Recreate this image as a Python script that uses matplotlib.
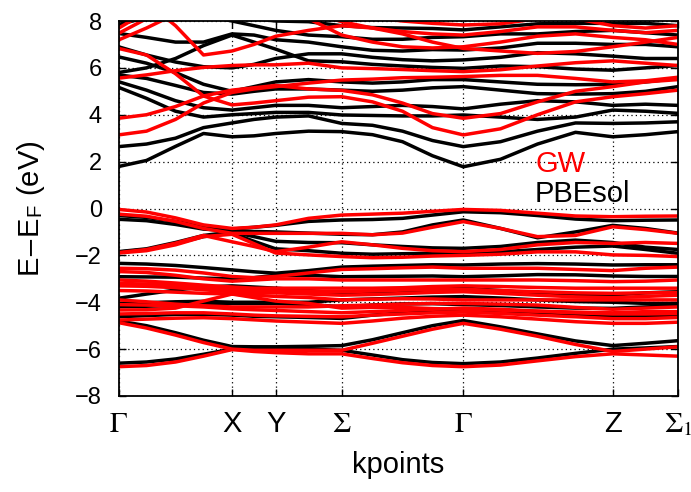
import matplotlib
matplotlib.use('Agg')
import matplotlib.pyplot as plt

# ---------------- data ----------------
# k-path distance (arbitrary units) of the sampled points
kdist = [0, 28, 57, 85, 113.5, 135.5, 157.2, 190, 223.2, 254, 284, 314, 344.8,
         382, 419, 457, 494.2, 527, 559.5]
sym_idx = [0, 4, 6, 8, 12, 16, 18]
sym_labels = [r'$\Gamma$', 'X', 'Y', r'$\Sigma$', r'$\Gamma$', 'Z', r'$\Sigma_1$']
yticks = [-8, -6, -4, -2, 0, 2, 4, 6, 8]

# PBEsol bands (eV)
pbe_c1 = [1.79, 2.05, 2.65, 3.20, 3.06, 3.10, 3.20, 3.30, 3.28, 3.15, 2.85, 2.25, 1.78, 2.10, 2.75, 3.25, 3.06, 3.15, 3.28]
pbe_c2 = [2.64, 2.75, 3.00, 3.45, 3.65, 3.80, 3.90, 3.95, 3.63, 3.55, 3.30, 2.90, 2.64, 2.85, 3.30, 3.65, 3.63, 3.65, 3.70]
pbe_c3 = [5.17, 4.70, 4.15, 3.90, 4.00, 4.05, 4.10, 4.10, 3.99, 3.97, 3.95, 3.95, 3.99, 3.90, 3.80, 3.90, 4.20, 4.15, 4.06]
pbe_c4 = [5.41, 5.05, 4.60, 4.30, 4.20, 4.30, 4.40, 4.40, 4.30, 4.35, 4.40, 4.35, 4.25, 4.45, 4.60, 4.55, 4.40, 4.45, 4.40]
pbe_c5 = [5.70, 5.55, 5.25, 4.95, 4.88, 5.00, 5.10, 5.10, 5.05, 5.00, 5.05, 5.15, 5.20, 5.05, 4.90, 4.88, 4.90, 5.00, 5.20]
pbe_c6 = [6.47, 6.20, 5.80, 5.30, 5.00, 5.20, 5.40, 5.50, 5.40, 5.35, 5.40, 5.50, 5.50, 5.40, 5.30, 5.28, 5.30, 5.40, 5.55]
pbe_c7 = [5.80, 6.00, 6.40, 6.95, 7.40, 7.10, 6.80, 6.30, 6.26, 6.15, 6.08, 6.02, 5.98, 6.08, 6.05, 5.95, 5.90, 6.00, 6.10]
pbe_c8 = [6.90, 6.55, 6.25, 6.05, 6.00, 6.15, 6.40, 6.60, 6.60, 6.45, 6.35, 6.30, 6.34, 6.45, 6.65, 6.60, 6.50, 6.40, 6.40]
pbe_c9 = [7.47, 7.30, 7.10, 7.10, 7.45, 7.40, 7.20, 7.10, 6.90, 6.75, 6.72, 6.78, 6.76, 6.85, 7.05, 7.05, 7.00, 7.00, 6.90]
pbe_c10 = [7.85, 8.15, 8.35, 8.25, 8.00, 7.80, 7.60, 7.40, 7.33, 7.22, 7.22, 7.30, 7.33, 7.45, 7.45, 7.55, 7.60, 7.50, 7.40]
pbe_c11 = [8.50, 8.50, 8.50, 8.40, 8.30, 8.10, 8.00, 7.97, 7.80, 7.72, 7.70, 7.68, 7.62, 7.75, 7.88, 7.90, 7.90, 7.90, 7.80]

pbe_v1 = [-0.30, -0.38, -0.55, -0.78, -0.88, -0.80, -0.72, -0.55, -0.49, -0.47, -0.42, -0.28, -0.14, -0.18, -0.30, -0.45, -0.52, -0.50, -0.49]
pbe_v2 = [-0.46, -0.52, -0.68, -0.88, -0.95, -0.98, -1.00, -1.05, -1.10, -1.12, -1.00, -0.70, -0.49, -0.85, -1.25, -1.00, -0.72, -0.85, -1.05]
pbe_v3 = [-1.84, -1.72, -1.45, -1.15, -1.00, -1.20, -1.40, -1.45, -1.46, -1.55, -1.62, -1.68, -1.70, -1.62, -1.45, -1.35, -1.45, -1.65, -1.75]
pbe_v4 = [-1.86, -1.75, -1.50, -1.20, -1.05, -1.40, -1.72, -1.80, -1.91, -1.95, -1.93, -1.91, -1.90, -1.85, -1.75, -1.65, -1.60, -1.75, -1.91]
pbe_v5 = [-2.34, -2.37, -2.43, -2.52, -2.62, -2.70, -2.76, -2.65, -2.50, -2.46, -2.43, -2.40, -2.41, -2.37, -2.35, -2.37, -2.41, -2.40, -2.40]
pbe_v6 = [-2.91, -2.92, -2.93, -2.97, -3.00, -2.95, -2.85, -2.85, -2.91, -2.90, -2.89, -2.88, -2.91, -2.87, -2.82, -2.83, -2.88, -2.90, -2.90]
pbe_v7 = [-3.83, -3.65, -3.48, -3.35, -3.30, -3.35, -3.40, -3.50, -3.62, -3.57, -3.53, -3.48, -3.40, -3.50, -3.62, -3.70, -3.69, -3.60, -3.55]
pbe_v8 = [-4.05, -4.02, -3.98, -3.96, -4.00, -4.00, -4.00, -4.00, -3.90, -3.86, -3.82, -3.78, -3.76, -3.82, -3.90, -3.97, -4.00, -4.05, -4.05]
pbe_v9 = [-4.19, -4.17, -4.14, -4.10, -4.05, -4.05, -4.05, -4.10, -4.19, -4.12, -4.07, -4.06, -4.10, -4.14, -4.20, -4.25, -4.26, -4.20, -4.15]
pbe_v10 = [-4.62, -4.57, -4.52, -4.52, -4.55, -4.60, -4.62, -4.65, -4.69, -4.55, -4.45, -4.38, -4.35, -4.42, -4.50, -4.57, -4.60, -4.60, -4.55]
pbe_v11 = [-4.80, -5.00, -5.30, -5.62, -5.89, -5.90, -5.90, -5.88, -5.85, -5.60, -5.30, -5.00, -4.78, -5.05, -5.35, -5.65, -5.85, -5.75, -5.64]
pbe_v12 = [-6.60, -6.55, -6.42, -6.22, -6.00, -5.98, -5.98, -6.00, -6.05, -6.25, -6.45, -6.57, -6.62, -6.55, -6.38, -6.18, -6.00, -5.95, -5.89]

# GW bands (eV)
gw_c1 = [3.14, 3.30, 3.80, 4.50, 4.95, 5.10, 5.20, 5.35, 5.48, 5.52, 5.58, 5.60, 5.63, 5.68, 5.68, 5.55, 5.40, 5.45, 5.60]
gw_c2 = [3.85, 4.00, 4.35, 4.80, 5.05, 5.15, 5.25, 5.10, 5.04, 4.85, 4.50, 4.05, 3.85, 4.05, 4.55, 5.00, 5.20, 5.40, 5.50]
gw_c3 = [5.56, 5.70, 5.88, 6.02, 6.10, 6.13, 6.13, 6.20, 6.00, 5.97, 5.93, 5.88, 5.84, 5.92, 6.08, 6.22, 6.30, 6.20, 6.10]
gw_c4 = [6.83, 6.55, 5.75, 4.80, 4.42, 4.50, 4.60, 4.75, 4.77, 4.55, 4.15, 3.45, 3.14, 3.40, 4.00, 4.55, 4.77, 4.90, 5.05]
gw_c5 = [9.00, 8.80, 7.80, 6.55, 6.72, 7.00, 7.35, 7.60, 7.80, 7.70, 7.45, 7.10, 6.83, 6.72, 6.62, 6.70, 6.90, 7.10, 7.30]
gw_c6 = [7.19, 7.70, 8.30, 8.90, 9.00, 8.80, 8.50, 8.10, 7.40, 7.10, 6.90, 6.85, 6.90, 7.10, 7.35, 7.45, 7.30, 7.20, 7.00]
gw_c7 = [7.47, 8.10, 8.80, 9.20, 9.20, 9.00, 8.80, 8.40, 7.97, 7.70, 7.55, 7.45, 7.40, 7.55, 7.75, 7.75, 7.60, 7.50, 7.60]
gw_c8 = [7.69, 8.40, 9.20, 9.50, 9.50, 9.40, 9.00, 8.60, 8.30, 8.15, 8.00, 7.90, 7.83, 7.88, 8.10, 8.10, 7.80, 7.70, 7.80]

gw_v1 = [-0.04, -0.15, -0.40, -0.70, -0.85, -0.80, -0.70, -0.42, -0.28, -0.24, -0.20, -0.12, -0.04, -0.08, -0.20, -0.32, -0.35, -0.33, -0.32]
gw_v2 = [-0.24, -0.33, -0.55, -0.85, -1.06, -1.06, -1.06, -1.06, -1.06, -1.12, -1.05, -0.80, -0.56, -0.85, -1.20, -1.15, -0.78, -0.90, -1.06]
gw_v3 = [-1.88, -1.75, -1.48, -1.15, -1.42, -1.62, -1.84, -1.65, -1.42, -1.55, -1.70, -1.80, -1.84, -1.75, -1.55, -1.45, -1.49, -1.45, -1.49]
gw_v4 = [-1.90, -1.80, -1.55, -1.20, -1.10, -1.50, -1.90, -1.98, -2.05, -2.10, -2.08, -2.03, -2.00, -1.95, -1.85, -1.85, -1.98, -2.00, -2.05]
gw_v5 = [-2.55, -2.57, -2.63, -2.75, -2.90, -2.95, -2.90, -2.75, -2.60, -2.57, -2.53, -2.50, -2.55, -2.55, -2.55, -2.60, -2.65, -2.55, -2.50]
gw_v6 = [-2.69, -2.73, -2.85, -3.00, -3.10, -3.05, -3.00, -3.00, -3.05, -3.05, -3.05, -3.05, -3.05, -3.05, -3.05, -3.08, -3.12, -3.10, -3.05]
gw_v7 = [-3.05, -3.10, -3.18, -3.27, -3.35, -3.40, -3.40, -3.40, -3.40, -3.40, -3.38, -3.33, -3.30, -3.33, -3.37, -3.40, -3.40, -3.40, -3.40]
gw_v8 = [-3.30, -3.32, -3.38, -3.47, -3.55, -3.60, -3.60, -3.65, -3.70, -3.67, -3.63, -3.58, -3.55, -3.62, -3.70, -3.77, -3.80, -3.75, -3.70]
gw_v9 = [-3.50, -3.52, -3.57, -3.62, -3.65, -3.70, -3.75, -3.80, -3.90, -3.87, -3.85, -3.86, -3.90, -3.90, -3.90, -3.90, -3.90, -3.90, -3.90]
gw_v10 = [-3.90, -3.98, -4.08, -4.15, -4.20, -4.20, -4.20, -4.20, -4.15, -4.12, -4.08, -4.05, -4.05, -4.08, -4.12, -4.22, -4.30, -4.25, -4.20]
gw_v11 = [-4.33, -4.32, -4.25, -3.95, -3.65, -3.80, -3.95, -4.05, -4.25, -4.22, -4.22, -4.27, -4.30, -4.34, -4.38, -4.42, -4.45, -4.40, -4.40]
gw_v12 = [-4.76, -4.72, -4.68, -4.66, -4.70, -4.75, -4.80, -4.85, -4.90, -4.80, -4.68, -4.60, -4.55, -4.62, -4.72, -4.83, -4.90, -4.90, -4.85]
gw_v13 = [-4.87, -5.10, -5.40, -5.72, -6.00, -6.05, -6.05, -6.05, -6.05, -5.75, -5.45, -5.15, -4.90, -5.15, -5.45, -5.80, -6.10, -6.00, -5.90]
gw_v14 = [-6.75, -6.70, -6.55, -6.30, -6.02, -6.10, -6.15, -6.20, -6.20, -6.40, -6.58, -6.70, -6.75, -6.68, -6.50, -6.32, -6.20, -6.25, -6.30]
gw_v15 = [-3.20, -3.22, -3.28, -3.35, -3.45, -3.50, -3.52, -3.55, -3.55, -3.52, -3.48, -3.45, -3.45, -3.50, -3.55, -3.60, -3.62, -3.60, -3.58]
gw_v16 = [-4.10, -4.12, -4.15, -4.20, -4.28, -4.32, -4.35, -4.40, -4.45, -4.40, -4.35, -4.30, -4.25, -4.30, -4.38, -4.45, -4.50, -4.50, -4.48]
gw_v17 = [-4.50, -4.48, -4.45, -4.45, -4.50, -4.55, -4.58, -4.60, -4.62, -4.55, -4.50, -4.45, -4.42, -4.48, -4.55, -4.62, -4.70, -4.70, -4.65]

pbe_bands = [pbe_c1, pbe_c2, pbe_c3, pbe_c4, pbe_c5, pbe_c6, pbe_c7, pbe_c8, pbe_c9, pbe_c10, pbe_c11,
             pbe_v1, pbe_v2, pbe_v3, pbe_v4, pbe_v5, pbe_v6, pbe_v7, pbe_v8, pbe_v9, pbe_v10, pbe_v11, pbe_v12]
gw_bands = [gw_c1, gw_c2, gw_c3, gw_c4, gw_c5, gw_c6, gw_c7, gw_c8,
            gw_v1, gw_v2, gw_v3, gw_v4, gw_v5, gw_v6, gw_v7, gw_v8, gw_v9, gw_v10, gw_v11, gw_v12,
            gw_v13, gw_v14, gw_v15, gw_v16, gw_v17]

# ---------------- plot ----------------
plt.rcParams['font.family'] = ['Liberation Sans', 'DejaVu Sans']
plt.rcParams['mathtext.fontset'] = 'stix'

W, H = 691, 492
fig = plt.figure(figsize=(W / 100, H / 100), dpi=100)
ax = fig.add_axes([118.5 / W, 96 / H, (678 - 118.5) / W, 375 / H])

for b in pbe_bands:
    ax.plot(kdist, b, color='black', lw=2.5, solid_joinstyle='round', solid_capstyle='round', zorder=2)
for b in gw_bands:
    ax.plot(kdist, b, color='#ff0000', lw=2.5, solid_joinstyle='round', solid_capstyle='round', zorder=3)

ax.set_xlim(kdist[0], kdist[-1])
ax.set_ylim(-8, 8)
ax.set_yticks(yticks)
ax.set_yticklabels([str(v).replace('-', '\u2212') for v in yticks])
ax.set_xticks([kdist[i] for i in sym_idx])
ax.set_xticklabels(sym_labels)

ax.set_axisbelow(True)
ax.grid(True, color='black', linestyle=(0, (1, 2.5)), lw=0.9)
for s in ax.spines.values():
    s.set_linewidth(1.3)
    s.set_zorder(6)
ax.tick_params(direction='in', top=True, right=True, length=5, width=1.0)
ax.tick_params(axis='y', labelsize=17, pad=12)
ax.tick_params(axis='x', labelsize=21, pad=10)

fig.text(398 / W, 1 - 473 / H, 'kpoints', fontsize=21, ha='center', va='baseline')
fig.text(31 / W, 1 - 208.5 / H, r'E$-$E$_\mathregular{F}$ (eV)', fontsize=21,
         rotation=90, ha='center', va='center')

ax.text(416.5, 1.57, 'GW', color='#ff0000', fontsize=21, va='baseline', ha='left', zorder=5)
ax.text(416.5, 0.28, 'PBEsol', color='black', fontsize=21, va='baseline', ha='left', zorder=5)

fig.savefig('out.png', dpi=100)
